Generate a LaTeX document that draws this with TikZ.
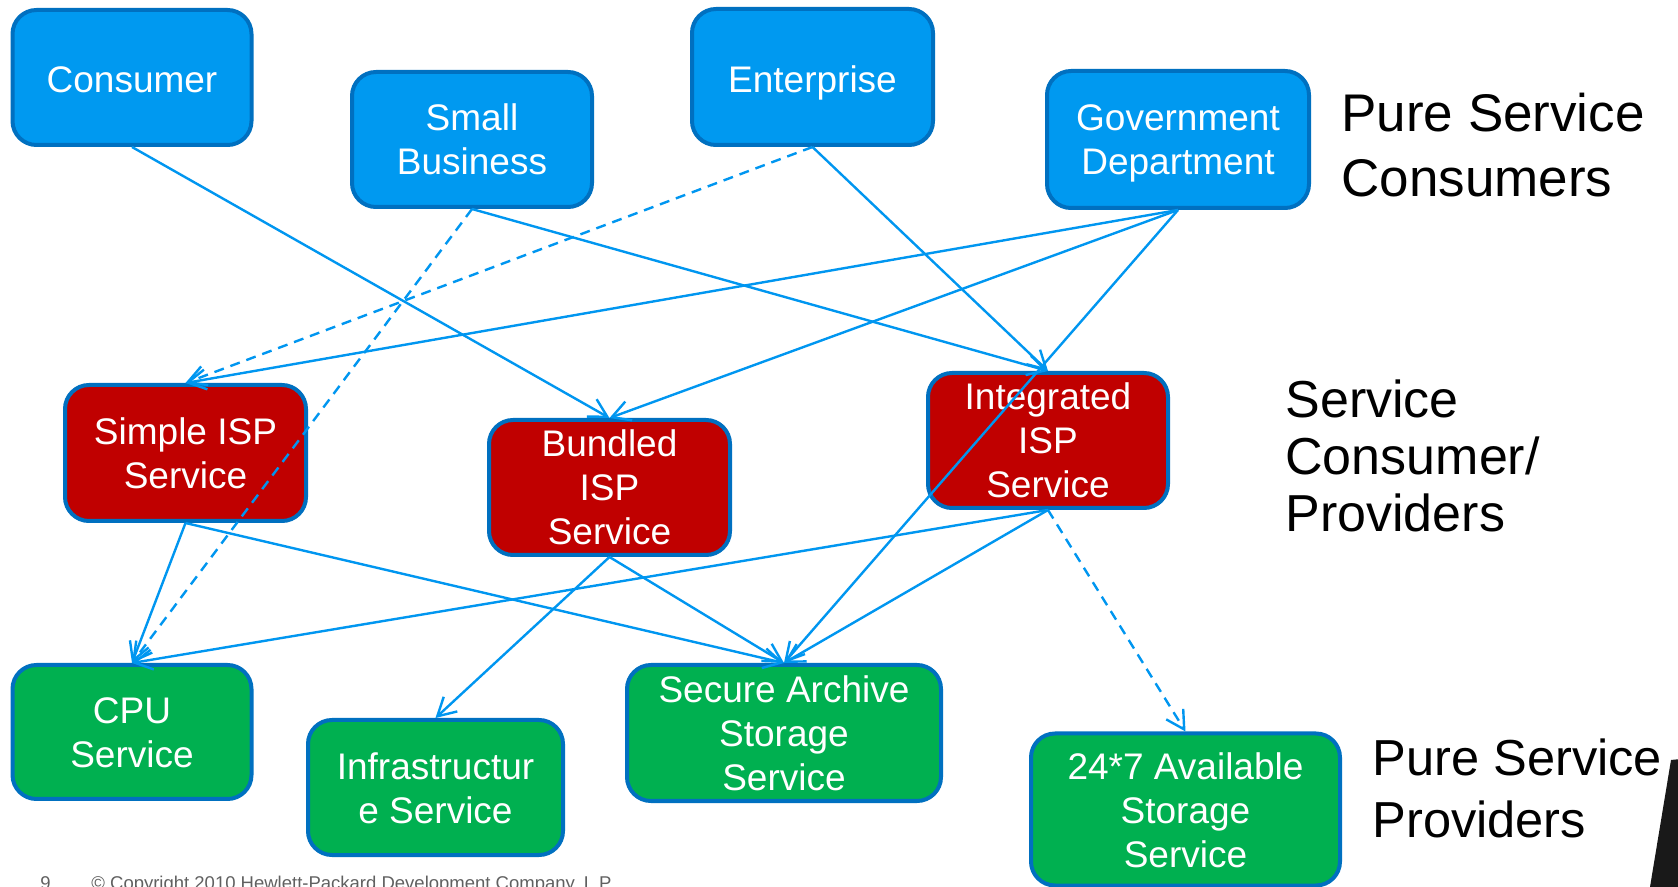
\documentclass[tikz,border=0pt]{standalone}
\usepackage{fontspec}
\setmainfont{Liberation Sans}
\usetikzlibrary{arrows.meta}
\definecolor{consumerblue}{RGB}{0,153,240}
\definecolor{edgeblue}{RGB}{0,112,192}
\definecolor{ispred}{RGB}{192,0,0}
\definecolor{providergreen}{RGB}{0,176,80}
\definecolor{linkblue}{RGB}{0,150,240}
\definecolor{footgray}{RGB}{96,96,96}
% line struts so every box line has the same ascent and descent
\newcommand{\ls}{\rule[-3.5pt]{0pt}{20.5pt}}
\newcommand{\lsone}{\rule[-3.5pt]{0pt}{22.5pt}}
\begin{document}
\begin{tikzpicture}[x=0.5pt,y=-0.5pt,
  box/.style={draw=edgeblue, line width=2pt, rounded corners=12pt, text=white,
    align=center, inner sep=0pt, font=\fontsize{18.5}{22}\selectfont},
  consumerbox/.style={box, fill=consumerblue},
  ispbox/.style={box, fill=ispred},
  providerbox/.style={box, fill=providergreen},
  link/.style={draw=linkblue, line width=1.2pt, -{Straight Barb[length=9pt,width=10pt]}},
  dashedlink/.style={link, dash pattern=on 5pt off 3.5pt},
  tier/.style={align=left, inner sep=0pt, anchor=base west}
]
\useasboundingbox (0,0) rectangle (1678,887);
\clip (0,0) rectangle (1678,887);

% consumers
\node[consumerbox, minimum width=119.5pt, minimum height=67.5pt] (consumer)   at (132,77.5)   {\lsone Consumer};
\node[consumerbox, minimum width=120pt,   minimum height=67.5pt] (smallbiz)   at (472,139.5)  {\ls Small\\\ls Business};
\node[consumerbox, minimum width=120.5pt, minimum height=68pt]   (enterprise) at (812.5,77)   {\lsone Enterprise};
\node[consumerbox, minimum width=131pt,   minimum height=68.5pt] (government) at (1178,139.5) {\ls Government\\\ls Department};

% consumer/providers
\node[ispbox, minimum width=120.5pt, minimum height=68pt]   (simple)     at (185.5,453)   {\ls Simple ISP\\\ls Service};
\node[ispbox, minimum width=120.5pt, minimum height=67.5pt] (bundled)    at (609.5,487.5) {\ls Bundled\\\ls ISP\\\ls Service};
\node[ispbox, minimum width=120pt,   minimum height=67.5pt] (integrated) at (1048,440.5)  {\ls Integrated\\\ls ISP\\\ls Service};

% providers
\node[providerbox, minimum width=119.5pt, minimum height=67pt]   (cpu)    at (132,732)      {\ls CPU\\\ls Service};
\node[providerbox, minimum width=127.5pt, minimum height=67.5pt] (infra)  at (435.5,787.5)  {\ls Infrastructur\\\ls e Service};
\node[providerbox, minimum width=157pt,   minimum height=68pt]   (secure) at (784,733)      {\ls Secure Archive\\\ls Storage\\\ls Service};
\node[providerbox, minimum width=154.5pt, minimum height=76pt]   (avail)  at (1185.5,809.5) {\ls 24*7 Available\\\ls Storage\\\ls Service};

% tier captions (placed by the baseline of their last line)
\node[tier, font=\fontsize{26.5}{32.5}\selectfont] (tiertop) at (1341,197) {Pure Service\\Consumers};
\node[tier, font=\fontsize{26}{28.5}\selectfont]   (tiermid) at (1285,532) {Service\\Consumer/\\Providers};
\node[tier, font=\fontsize{25.3}{31}\selectfont]   (tierbot) at (1372,837) {Pure Service\\Providers};

% dependencies
\draw[link]       (consumer.south)   -- (bundled.north);
\draw[dashedlink] (smallbiz.south)   -- (cpu.north);
\draw[link]       (smallbiz.south)   -- (integrated.north);
\draw[dashedlink] (enterprise.south) -- (simple.north);
\draw[link]       (enterprise.south) -- (integrated.north);
\draw[link]       (government.south) -- (simple.north);
\draw[link]       (government.south) -- (bundled.north);
\draw[link]       (government.south) -- (secure.north);
\draw[link]       (simple.south)     -- (cpu.north);
\draw[link]       (simple.south)     -- (secure.north);
\draw[link]       (bundled.south)    -- (infra.north);
\draw[link]       (bundled.south)    -- (secure.north);
\draw[link]       (integrated.south) -- (cpu.north);
\draw[link]       (integrated.south) -- (secure.north);
\draw[dashedlink] (integrated.south) -- (avail.north);

% footer
\node[anchor=base west, inner sep=0pt, text=footgray, font=\fontsize{9.25}{11}\selectfont] (pagenum) at (40,889) {9};
\node[anchor=base west, inner sep=0pt, text=footgray, font=\fontsize{9.25}{11}\selectfont] (copyright) at (91,889) {© Copyright 2010 Hewlett-Packard Development Company, L.P.};

% dark corner wedge
\fill[black!90] (1650,887) -- (1671,760) -- (1690,758) -- (1690,895) -- (1650,895) -- cycle;
\end{tikzpicture}
\end{document}
